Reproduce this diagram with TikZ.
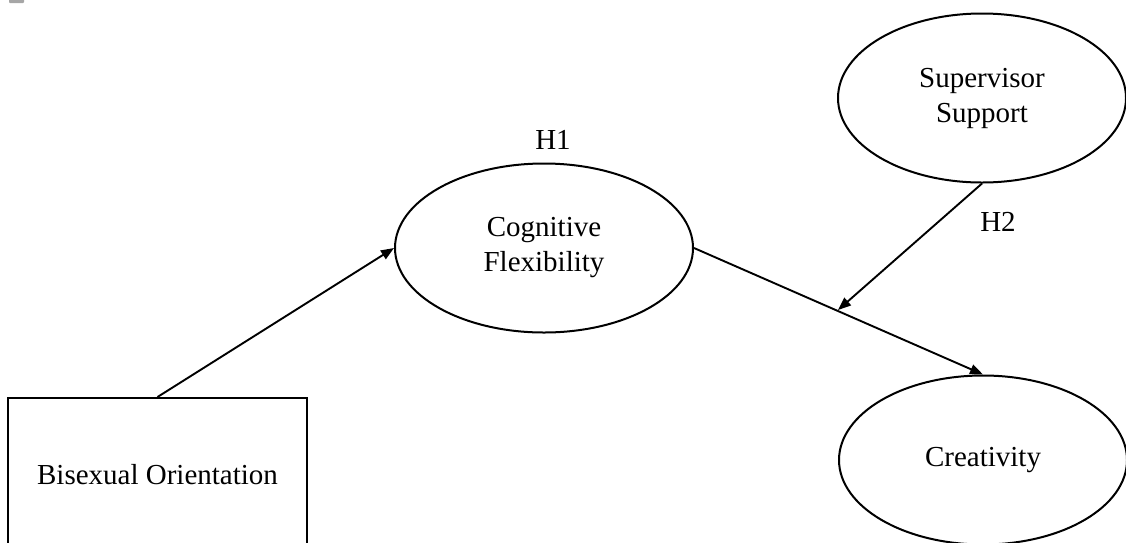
\documentclass[tikz,border=0pt]{standalone}
\usepackage{fontspec}
\setmainfont{Liberation Serif}
\usetikzlibrary{shapes.geometric,arrows.meta}
\begin{document}
\begin{tikzpicture}[x=1pt,y=-1pt,
  every node/.style={font=\fontsize{29}{35}\selectfont, align=center},
  oval/.style={draw, ellipse, line width=2pt, inner sep=0pt, minimum width=292pt, minimum height=169pt},
  conn/.style={line width=1.9pt, -{Triangle[length=13pt,width=10pt]}},
  hlabel/.style={inner sep=0pt}]
\useasboundingbox (0,0) rectangle (1126,542);
\clip (0,0) rectangle (1126,542);
\fill[gray!70, rounded corners=1pt] (9,-2) rectangle (24,3);
\node[draw, line width=2pt, minimum width=299pt, minimum height=154pt, inner sep=0pt] (bis) at (157.5,475) {Bisexual Orientation};
\node[oval, minimum width=298pt] (cog) at (544,248) {Cognitive\\Flexibility};
\node[oval, minimum width=288pt] (sup) at (982,98) {Supervisor\\Support};
\node[oval, minimum width=288pt] (cre) at (983,460) {Creativity};
\node[hlabel] (h1) at (553,140) {H1};
\node[hlabel] (h2) at (998,222) {H2};
\coordinate (mod) at (838,310);
\draw[conn] (bis.north) -- (cog.west);
\draw[conn] (cog.east) -- (cre.north);
\draw[conn] (sup.south) -- (mod);
\end{tikzpicture}
\end{document}
